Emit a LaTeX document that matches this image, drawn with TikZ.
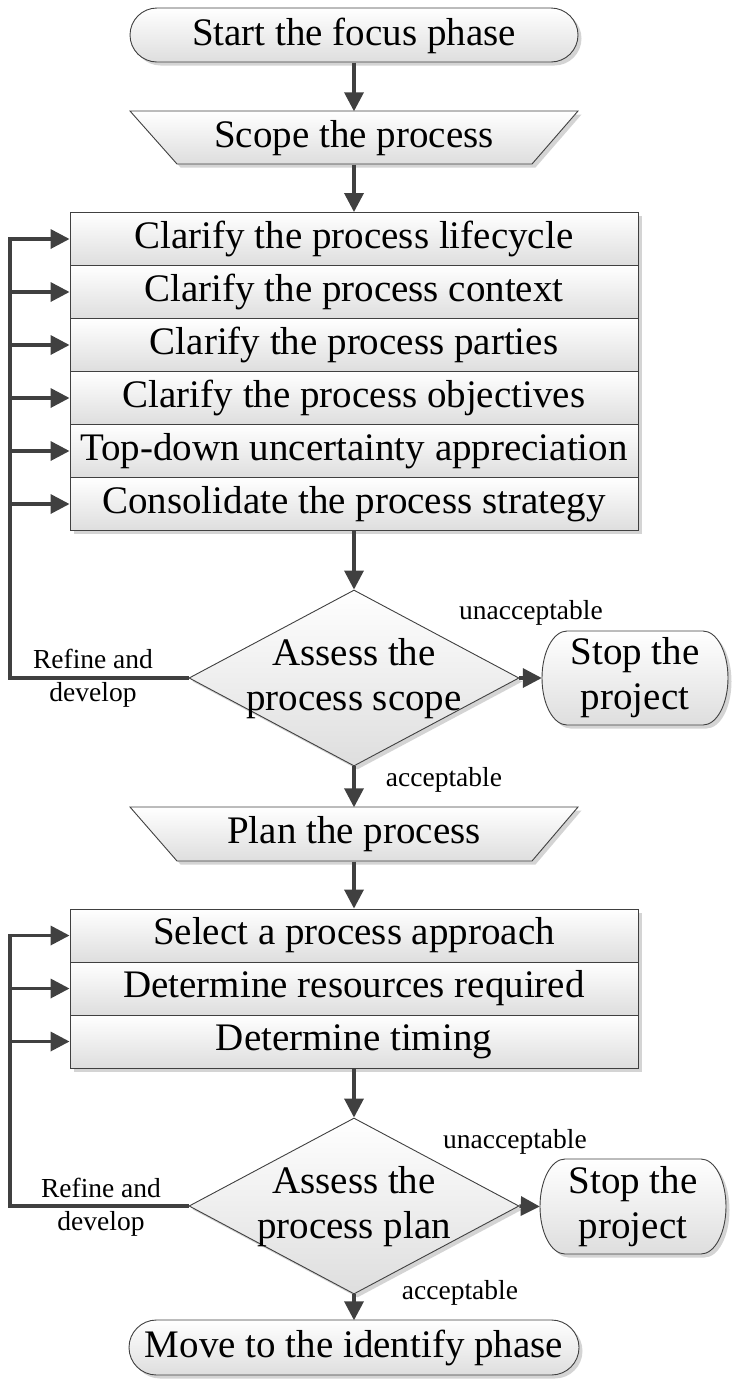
\documentclass[tikz,border=0pt]{standalone}
\usepackage{fontspec}
\setmainfont{Liberation Serif}
\usetikzlibrary{arrows.meta,shapes.geometric,shadows}
\begin{document}
\begin{tikzpicture}[x=1pt,y=1pt,
  boxfill/.style={top color=white, bottom color=black!13, draw=black!75, line width=0.9pt,
    drop shadow={shadow xshift=3.5pt, shadow yshift=-3.5pt, fill=black!17, opacity=1}},
  bigfont/.style={font=\fontsize{39}{45}\selectfont},
  smallfont/.style={font=\fontsize{27.5}{33}\selectfont},
  plain/.style={bigfont, inner sep=0pt, align=center},
  lbl/.style={smallfont, inner sep=0pt, align=center},
  rowbox/.style={rectangle, boxfill, bigfont, inner sep=0pt, minimum width=568pt, minimum height=53pt},
  decision/.style={diamond, boxfill, inner sep=0pt, minimum width=330pt, minimum height=176pt},
  conn/.style={draw=black!75, line width=3.5pt},
  arr/.style={conn, -{Triangle[length=19pt,width=19pt]}}
]
\useasboundingbox (0,0) rectangle (733,-1390);

% start
\shade[boxfill] (551,-8) -- (157,-8) arc[start angle=90,end angle=270,radius=27] -- (551,-62) arc[start angle=-90,end angle=90,radius=27] -- cycle;
\node[plain, minimum width=448pt, minimum height=54pt] (start) at (354,-35.5) {Start the focus phase};

% scope
\shade[boxfill] (130,-111) -- (578,-111) -- (532,-164) -- (177,-164) -- cycle;
\node[plain, minimum width=448pt, minimum height=53pt] (scope) at (354,-138) {Scope the process};

% stack 1
\node[rowbox] (r11) at (354,-239) {Clarify the process lifecycle};
\node[rowbox] (r12) at (354,-292) {Clarify the process context};
\node[rowbox] (r13) at (354,-345) {Clarify the process parties};
\node[rowbox] (r14) at (354,-398) {Clarify the process objectives};
\node[rowbox] (r15) at (354,-451) {Top-down uncertainty appreciation};
\node[rowbox] (r16) at (354,-504) {Consolidate the process strategy};

% decision 1
\node[decision] (d1) at (354,-678) {};
\node[plain] (d1t) at (354,-679) {Assess the\\process scope};

% stop 1
\shade[boxfill] (703,-631) -- (567,-631) arc[start angle=90,end angle=270,x radius=25,y radius=47] -- (703,-725) arc[start angle=-90,end angle=90,x radius=25,y radius=47] -- cycle;
\node[plain, minimum width=186pt, minimum height=94pt] (stop1) at (635,-678) {Stop the\\project};

% plan
\shade[boxfill] (130,-807) -- (578,-807) -- (532,-861) -- (177,-861) -- cycle;
\node[plain, minimum width=448pt, minimum height=54pt] (plan) at (354,-834.5) {Plan the process};

% stack 2
\node[rowbox] (r21) at (354,-935.5) {Select a process approach};
\node[rowbox] (r22) at (354,-988.5) {Determine resources required};
\node[rowbox] (r23) at (354,-1041.5) {Determine timing};

% decision 2
\node[decision] (d2) at (354,-1206) {};
\node[plain] (d2t) at (354,-1207) {Assess the\\process plan};

% stop 2
\shade[boxfill] (701,-1159) -- (565,-1159) arc[start angle=90,end angle=270,x radius=25,y radius=47.5] -- (701,-1254) arc[start angle=-90,end angle=90,x radius=25,y radius=47.5] -- cycle;
\node[plain, minimum width=186pt, minimum height=95pt] (stop2) at (633,-1206.5) {Stop the\\project};

% move
\shade[boxfill] (551.5,-1320) -- (156.5,-1320) arc[start angle=90,end angle=270,radius=27.5] -- (551.5,-1375) arc[start angle=-90,end angle=90,radius=27.5] -- cycle;
\node[plain, minimum width=450pt, minimum height=55pt] (move) at (354,-1348) {Move to the identify phase};

% main flow
\draw[arr] (start.south) -- (scope.north);
\draw[arr] (scope.south) -- (r11.north);
\draw[arr] (r16.south) -- (d1.north);
\draw[arr] (d1.south) -- (plan.north);
\draw[arr] (plan.south) -- (r21.north);
\draw[arr] (r23.south) -- (d2.north);
\draw[arr] (d2.south) -- (move.north);
\draw[arr] (d1.east) -- (stop1.west);
\draw[arr] (d2.east) -- (stop2.west);

% feedback 1
\coordinate (fb1) at (10,-678);
\draw[arr] (d1.west) -- (fb1) -- (fb1 |- r11.west) -- (r11.west);
\foreach \r in {r12,r13,r14,r15,r16}{\draw[arr] (fb1 |- \r.west) -- (\r.west);}

% feedback 2
\coordinate (fb2) at (10,-1206);
\draw[arr] (d2.west) -- (fb2) -- (fb2 |- r21.west) -- (r21.west);
\foreach \r in {r22,r23}{\draw[arr] (fb2 |- \r.west) -- (\r.west);}

% labels
\node[lbl] (u1) at (531,-613) {unacceptable};
\node[lbl] (rd1) at (93,-678) {Refine and\\develop};
\node[lbl] (a1) at (444,-780) {acceptable};
\node[lbl] (u2) at (515,-1142) {unacceptable};
\node[lbl] (rd2) at (101,-1207) {Refine and\\develop};
\node[lbl] (a2) at (460,-1293) {acceptable};
\end{tikzpicture}
\end{document}
